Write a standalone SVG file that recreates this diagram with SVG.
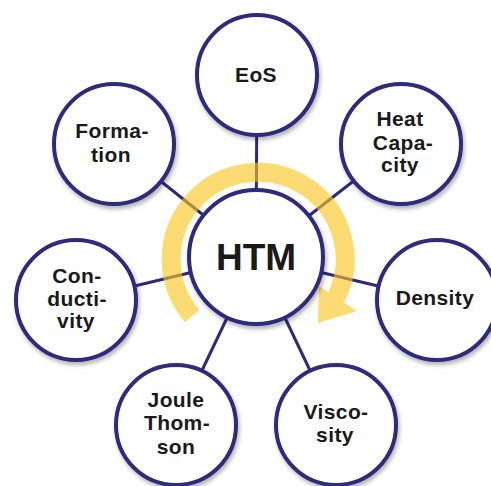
<svg xmlns="http://www.w3.org/2000/svg" width="491" height="486" viewBox="0 0 491 486">
  <defs>
    <filter id="sh" x="-20%" y="-20%" width="140%" height="140%">
      <feDropShadow dx="1.5" dy="3" stdDeviation="2" flood-color="#000" flood-opacity="0.3"/>
    </filter>
    <style>
      .node circle { fill: #ffffff; stroke: #2d2a7b; stroke-width: 4; filter: url(#sh); }
      .node text { font-family: "Liberation Sans", Arial, sans-serif; font-weight: bold; font-size: 21px; letter-spacing: 0.4px; fill: #1a1a1a; text-anchor: middle; }
      .conn line { stroke: #2d2a7b; stroke-width: 3; }
    </style>
  </defs>
  <rect width="491" height="486" fill="#ffffff"/>
  <g id="connectors" class="conn">
    <line x1="256" y1="257" x2="257" y2="75"/>
    <line x1="256" y1="257" x2="401" y2="144"/>
    <line x1="256" y1="257" x2="437" y2="300"/>
    <line x1="256" y1="257" x2="336" y2="425"/>
    <line x1="256" y1="257" x2="176" y2="425"/>
    <line x1="256" y1="257" x2="76" y2="300"/>
    <line x1="256" y1="257" x2="114" y2="144"/>
  </g>
  <g id="cycle-arrow" opacity="0.62">
    <path d="M 192.3 316.1 A 87 87 0 1 1 336 298" fill="none" stroke="#fcc61e" stroke-width="19"/>
    <polygon points="319,286 357,311 318,323" fill="#fcc61e"/>
  </g>
  <g id="htm" class="node">
    <circle cx="256" cy="257" r="67"/>
    <text x="256" y="270" style="font-size:37px;letter-spacing:0">HTM</text>
  </g>
  <g id="eos" class="node">
    <circle cx="257" cy="75" r="60"/>
    <text x="256" y="82">EoS</text>
  </g>
  <g id="heat-capacity" class="node">
    <circle cx="401" cy="144" r="60"/>
    <text x="400" y="126">Heat</text>
    <text x="403" y="149.5">Capa-</text>
    <text x="400" y="172">city</text>
  </g>
  <g id="density" class="node">
    <circle cx="437" cy="300" r="60"/>
    <text x="435" y="305">Density</text>
  </g>
  <g id="viscosity" class="node">
    <circle cx="336" cy="425" r="60"/>
    <text x="336" y="419">Visco-</text>
    <text x="335" y="442">sity</text>
  </g>
  <g id="joule-thomson" class="node">
    <circle cx="176" cy="425" r="60"/>
    <text x="176" y="407">Joule</text>
    <text x="177" y="430">Thom-</text>
    <text x="176" y="454">son</text>
  </g>
  <g id="conductivity" class="node">
    <circle cx="76" cy="300" r="60"/>
    <text x="77" y="283">Con-</text>
    <text x="77" y="306">ducti-</text>
    <text x="76" y="328">vity</text>
  </g>
  <g id="formation" class="node">
    <circle cx="114" cy="144" r="60"/>
    <text x="112" y="138">Forma-</text>
    <text x="111" y="162">tion</text>
  </g>
</svg>
